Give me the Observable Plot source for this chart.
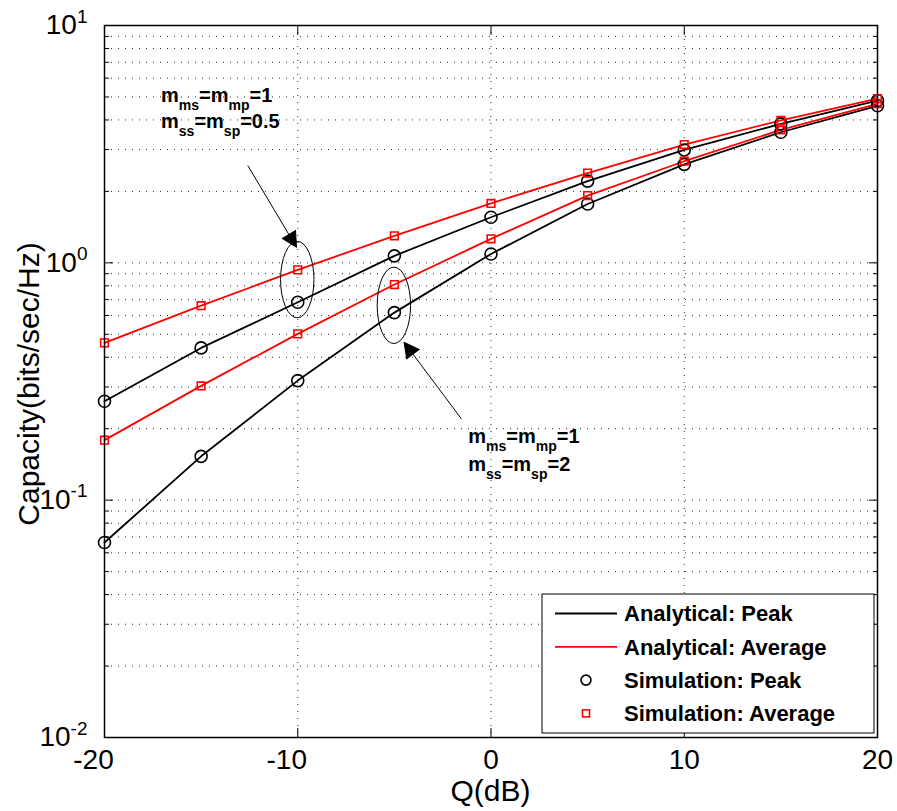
<!DOCTYPE html>
<html><head><meta charset="utf-8">
<script src="https://cdn.jsdelivr.net/npm/d3@7"></script>
<script src="https://cdn.jsdelivr.net/npm/@observablehq/plot@0.6"></script>
<style>
body{margin:0;background:#fff;}
#chart{position:relative;width:897px;height:811px;}
</style></head><body><div id="chart"></div>
<script>
// ---- data ----
const Q = [-20, -15, -10, -5, 0, 5, 10, 15, 20];
const peakHalf = [0.261, 0.438, 0.682, 1.07, 1.556, 2.21, 2.99, 3.85, 4.83];
const avgHalf  = [0.46, 0.66, 0.934, 1.30, 1.78, 2.39, 3.15, 3.98, 4.92];
const peakTwo  = [0.0663, 0.153, 0.319, 0.617, 1.09, 1.77, 2.60, 3.55, 4.59];
const avgTwo   = [0.179, 0.303, 0.502, 0.81, 1.262, 1.92, 2.68, 3.63, 4.68];

const xTicks = [-20, -10, 0, 10, 20];
const xTickLabels = ["-20", "-10", "0", "10", "20"];
const yTicks = [0.01, 0.1, 1, 10];
const yTickExponents = ["-2", "-1", "0", "1"];
const yMinor = [0.02,0.03,0.04,0.05,0.06,0.07,0.08,0.09,
                0.2,0.3,0.4,0.5,0.6,0.7,0.8,0.9,
                2,3,4,5,6,7,8,9];
const legendLabels = ["Analytical: Peak", "Analytical: Average", "Simulation: Peak", "Simulation: Average"];
const xLabel = "Q(dB)";
const yLabel = "Capacity(bits/sec/Hz)";

// annotations (data coordinates)
const arrows = [
  {x1: -12.585, y1: 2.57, x2: -10.065, y2: 1.163},
  {x1: -1.53, y1: 0.220, x2: -4.5, y2: 0.463}
];
const ellipses = [
  {x: -10, y: 0.846},
  {x: -5, y: 0.659}
];
const notes = [
  {x: -17.05, y: 4.75, parts: [["m",0],["ms",1],["=m",0],["mp",1],["=1",0]]},
  {x: -17.05, y: 3.67, parts: [["m",0],["ss",1],["=m",0],["sp",1],["=0.5",0]]},
  {x: -1.15, y: 0.1726, parts: [["m",0],["ms",1],["=m",0],["mp",1],["=1",0]]},
  {x: -1.15, y: 0.1323, parts: [["m",0],["ss",1],["=m",0],["sp",1],["=2",0]]}
];

const series = [
  {id: "peakHalf", kind: "peak", values: peakHalf},
  {id: "avgHalf", kind: "avg", values: avgHalf},
  {id: "peakTwo", kind: "peak", values: peakTwo},
  {id: "avgTwo", kind: "avg", values: avgTwo}
];
const rows = series.flatMap(s => Q.map((q, i) => ({q, v: s.values[i], kind: s.kind, id: s.id})));
const peakRows = rows.filter(d => d.kind === "peak");
const avgRows = rows.filter(d => d.kind === "avg");

const FONT = '"Liberation Sans", Arial, Helvetica, sans-serif';
const BLACK = "#000", RED = "#ff0000";
const dotted = {stroke: "#000", strokeOpacity: 0.85, strokeWidth: 1, strokeDasharray: "1,6"};

const plot = Plot.plot({
  width: 897, height: 811,
  marginLeft: 104, marginRight: 20, marginTop: 25, marginBottom: 74,
  style: {fontFamily: FONT, background: "#fff", overflow: "visible", color: "#000"},
  x: {domain: [-20, 20]},
  y: {type: "log", domain: [0.01, 10]},
  marks: [
    Plot.gridX([-10, 0, 10], dotted),
    Plot.gridY(yMinor.concat([0.1, 1]), dotted),
    Plot.line(rows, {x: "q", y: "v", z: "id", stroke: d => d.kind === "peak" ? BLACK : RED, strokeWidth: 1.8}),
    Plot.dot(peakRows, {x: "q", y: "v", r: 6, symbol: "circle", stroke: BLACK, strokeWidth: 1.6, fill: "none"}),
    Plot.dot(avgRows, {x: "q", y: "v", r: 4.3, symbol: "square", stroke: RED, strokeWidth: 1.6, fill: "none"}),
    Plot.arrow(arrows, {x1: "x1", y1: "y1", x2: "x2", y2: "y2", stroke: BLACK, fill: BLACK, strokeWidth: 1, headLength: 26, headAngle: 55, strokeLinejoin: "miter", strokeLinecap: "butt"}),
    Plot.frame({stroke: BLACK, strokeWidth: 1.5}),
    // inward ticks
    Plot.axisX(xTicks, {anchor: "bottom", tickSize: -9, fill: "none", label: null}),
    Plot.axisX(xTicks, {anchor: "top", tickSize: -9, fill: "none", label: null}),
    Plot.axisY(yTicks, {anchor: "left", tickSize: -9, fill: "none", label: null}),
    Plot.axisY(yTicks, {anchor: "right", tickSize: -9, fill: "none", label: null}),
    Plot.axisY(yMinor, {anchor: "left", tickSize: -5, fill: "none", label: null}),
    Plot.axisY(yMinor, {anchor: "right", tickSize: -5, fill: "none", label: null}),
    // tick labels
    Plot.axisX(xTicks, {anchor: "bottom", tickSize: 0, tickPadding: 12, fontSize: 28, tickFormat: d => xTickLabels[xTicks.indexOf(d)], label: null, fill: "#000"}),
    Plot.axisY(yTicks, {anchor: "left", tickSize: 0, tickPadding: 17, fontSize: 28, tickFormat: d => "10^" + yTickExponents[yTicks.indexOf(d)], label: null, fill: "#000"})
  ]
});

document.getElementById("chart").appendChild(plot);
const svg = d3.select(plot);
const sx = plot.scale("x"), sy = plot.scale("y");
const X = v => sx.apply(v), Y = v => sy.apply(v);

// shift negative x tick labels left, as in the reference
svg.selectAll('g[aria-label="x-axis tick label"] text').each(function() {
  if (this.textContent.startsWith("-")) this.setAttribute("dx", -11);
});

// superscripts on y tick labels
svg.selectAll('g[aria-label="y-axis tick label"] text').each(function() {
  const t = this.textContent;
  const m = t.split("^");
  if (m.length === 2) {
    const el = d3.select(this);
    el.text(null);
    el.append("tspan").text(m[0]);
    el.append("tspan").attr("font-size", 19).attr("dy", "-0.62em").text(m[1]);
  }
});

// ellipses
svg.append("g").selectAll("ellipse").data(ellipses).join("ellipse")
  .attr("cx", d => X(d.x)).attr("cy", d => Y(d.y))
  .attr("rx", 16.7).attr("ry", 38.2)
  .attr("fill", "none").attr("stroke", "#000").attr("stroke-width", 1);

// annotation text with subscripts
const ann = svg.append("g").attr("font-family", FONT).attr("font-weight", "bold")
  .attr("font-size", 20).attr("text-anchor", "start");
notes.forEach(n => {
  const t = ann.append("text").attr("x", X(n.x)).attr("y", Y(n.y));
  let sub = false;
  n.parts.forEach(([s, isSub]) => {
    const sp = t.append("tspan").text(s);
    if (isSub && !sub) { sp.attr("dy", 8).attr("font-size", 14); sub = true; }
    else if (isSub) { sp.attr("font-size", 14); }
    else if (!isSub && sub) { sp.attr("dy", -8); sub = false; }
  });
});

// axis labels
const [xr0, xr1] = sx.range, [yr0, yr1] = sy.range;
svg.append("text").attr("x", (xr0 + xr1) / 2).attr("y", 801)
  .attr("text-anchor", "middle").attr("font-family", FONT).attr("font-size", 30).text(xLabel);
svg.append("text").attr("transform", `translate(39,${(yr0 + yr1) / 2 + 3}) rotate(-90)`)
  .attr("text-anchor", "middle").attr("font-family", FONT).attr("font-size", 30).text(yLabel);

// legend
const lg = svg.append("g").attr("font-family", FONT).attr("text-anchor", "start");
const lx = xr1 - 335, ly = yr0 - 143, lw = 332, lh = 139;
lg.append("rect").attr("x", lx).attr("y", ly).attr("width", lw).attr("height", lh)
  .attr("fill", "#fff").attr("stroke", "#000").attr("stroke-width", 1);
legendLabels.forEach((lab, i) => {
  const cy = ly + 19.5 + i * 33.3;
  if (i < 2) {
    lg.append("line").attr("x1", lx + 13).attr("x2", lx + 75).attr("y1", cy).attr("y2", cy)
      .attr("stroke", i === 0 ? BLACK : RED).attr("stroke-width", 1.8);
  } else if (i === 2) {
    lg.append("circle").attr("cx", lx + 44).attr("cy", cy).attr("r", 5).attr("fill", "none").attr("stroke", BLACK).attr("stroke-width", 1.6);
  } else {
    lg.append("rect").attr("x", lx + 40.5).attr("y", cy - 3.5).attr("width", 7).attr("height", 7).attr("fill", "none").attr("stroke", RED).attr("stroke-width", 1.6);
  }
  lg.append("text").attr("x", lx + 82).attr("y", cy).attr("dy", "0.36em")
    .attr("font-size", 22).attr("font-weight", "bold").text(lab);
});
</script></body></html>
